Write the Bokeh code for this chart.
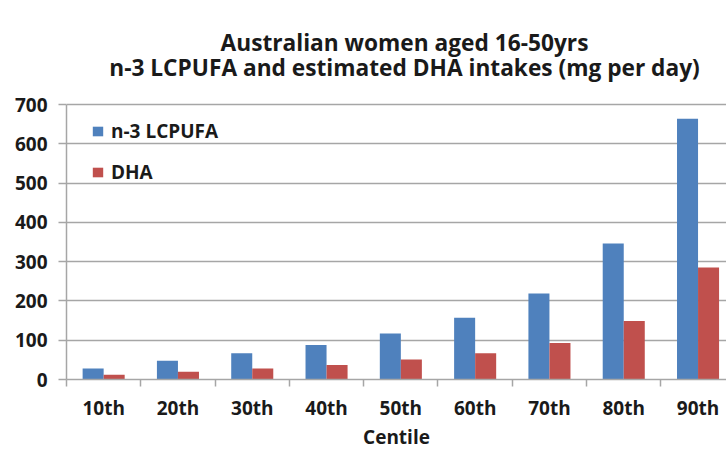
from bokeh.plotting import figure
from bokeh.models import Range1d, FixedTicker, Legend, LegendItem, Label
from bokeh.embed import file_html
from bokeh.resources import INLINE

centiles = ["10th", "20th", "30th", "40th", "50th", "60th", "70th", "80th", "90th"]
n3_lcpufa = [28, 48, 67, 88, 117, 157, 219, 346, 664]
dha = [12, 20, 28, 37, 51, 67, 93, 149, 285]
y_ticks = [0, 100, 200, 300, 400, 500, 600, 700]
series_names = ["n-3 LCPUFA", "DHA"]
title_lines = ["Australian women aged 16-50yrs",
               "n-3 LCPUFA and estimated DHA intakes (mg per day)"]

FONT = "Open Sans"
GRID = "#A6A6A6"
BLUE = "#4F81BD"
RED = "#C0504D"
TXT = "#1a1a1a"

# frame reaches the top of the canvas; 0..700 occupies its lower 275 px
PX_PER_UNIT = 275 / 700
FRAME_H = 379
Y_TOP = FRAME_H / PX_PER_UNIT

p = figure(frame_width=660, frame_height=FRAME_H, output_backend="svg", toolbar_location=None,
           x_range=Range1d(0, 8.883), y_range=Range1d(0, Y_TOP),
           min_border_left=66, min_border_right=0, min_border_top=0,
           min_border_bottom=72, title=None)
p.outline_line_color = None
p.background_fill_color = "white"

# title lines placed above the 700 gridline
title_x = (404 - 66) / 74.3
for txt, py in zip(title_lines, [42, 67]):
    p.add_layout(Label(x=title_x, y=(FRAME_H - py) / PX_PER_UNIT, text=txt,
                       text_align="center", text_baseline="middle",
                       text_font=FONT, text_font_size="22.7px",
                       text_font_style="bold", text_color=TXT))

centers = [i + 0.5 for i in range(len(centiles))]
bw = 0.283
r1 = p.vbar(x=[c - bw / 2 for c in centers], top=n3_lcpufa, width=bw, bottom=0,
            fill_color=BLUE, line_color=None)
r2 = p.vbar(x=[c + bw / 2 for c in centers], top=dha, width=bw, bottom=0,
            fill_color=RED, line_color=None)

# x axis: labels at category centres, tick marks at category boundaries
xa = p.xaxis[0]
xa.ticker = FixedTicker(ticks=centers, minor_ticks=list(range(len(centiles) + 1)))
xa.major_label_overrides = {c: lab for c, lab in zip(centers, centiles)}
xa.major_tick_line_color = None
xa.major_tick_out = 0
xa.major_tick_in = 0
xa.minor_tick_line_color = GRID
xa.minor_tick_line_width = 1.5
xa.minor_tick_out = 7
xa.minor_tick_in = 0
xa.axis_line_color = GRID
xa.axis_line_width = 1.5
xa.major_label_text_font = FONT
xa.major_label_text_font_size = "19px"
xa.major_label_text_font_style = "bold"
xa.major_label_text_color = TXT
xa.major_label_standoff = 8
xa.axis_label = "Centile"
xa.axis_label_text_font = FONT
xa.axis_label_text_font_size = "19px"
xa.axis_label_text_font_style = "bold"
xa.axis_label_text_color = TXT
xa.axis_label_standoff = 0

ya = p.yaxis[0]
ya.ticker = FixedTicker(ticks=y_ticks)
ya.bounds = (y_ticks[0], y_ticks[-1])
ya.minor_tick_line_color = None
ya.major_tick_line_color = GRID
ya.major_tick_line_width = 1.5
ya.major_tick_out = 8
ya.major_tick_in = 0
ya.axis_line_color = GRID
ya.axis_line_width = 1.5
ya.major_label_text_font = FONT
ya.major_label_text_font_size = "19px"
ya.major_label_text_font_style = "bold"
ya.major_label_text_color = TXT
ya.major_label_standoff = 11

p.xgrid.grid_line_color = None
p.ygrid.grid_line_color = GRID
p.ygrid.grid_line_width = 1.5

legend = Legend(items=[LegendItem(label=series_names[0], renderers=[r1]),
                       LegendItem(label=series_names[1], renderers=[r2])],
                location=(25, 194), orientation="vertical",
                background_fill_alpha=0, border_line_color=None,
                padding=0, margin=0, spacing=15,
                glyph_width=13, glyph_height=12, label_height=20,
                label_standoff=7,
                label_text_font=FONT, label_text_font_size="19px",
                label_text_font_style="bold", label_text_color=TXT)
p.add_layout(legend)

open("out.html", "w").write(file_html(p, INLINE))
